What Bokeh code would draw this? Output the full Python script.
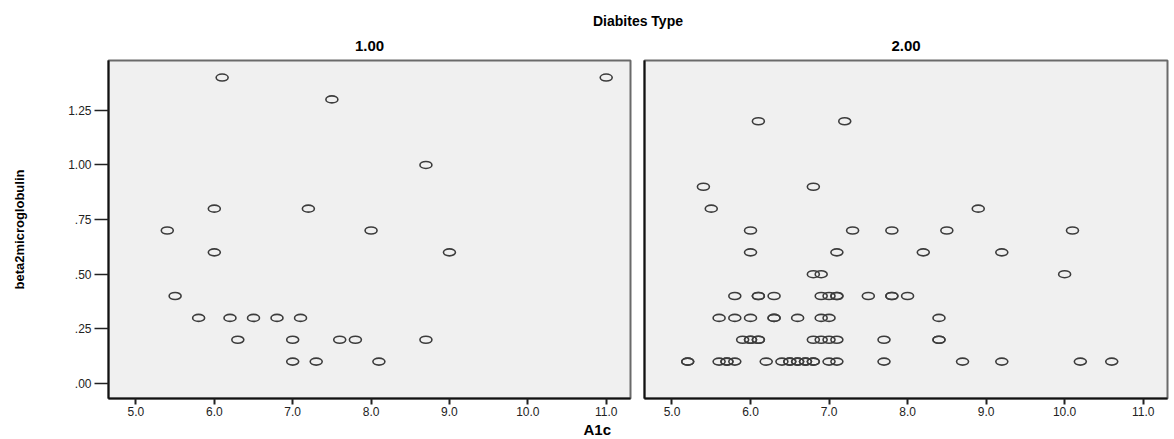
from bokeh.plotting import figure
from bokeh.models import FixedTicker, Title, Range1d
from bokeh.layouts import column, row
from bokeh.embed import file_html
from bokeh.resources import INLINE

# ---------------- data ----------------
group_title = "Diabites Type"
panel_titles = ["1.00", "2.00"]
x_label = "A1c"
y_label = "beta2microglobulin"

type1_a1c = [6.1, 11.0, 7.5, 8.7, 6.0, 7.2, 5.4, 8.0, 6.0, 9.0, 5.5,
             5.8, 6.2, 6.5, 6.8, 7.1, 6.3, 7.0, 7.6, 7.8, 8.7, 7.0, 7.3, 8.1]
type1_b2m = [1.40, 1.40, 1.30, 1.00, 0.80, 0.80, 0.70, 0.70, 0.60, 0.60, 0.40,
             0.30, 0.30, 0.30, 0.30, 0.30, 0.20, 0.20, 0.20, 0.20, 0.20, 0.10, 0.10, 0.10]

type2_a1c = [6.1, 7.2,
             5.4, 6.8,
             5.5, 8.9,
             6.0, 7.3, 7.8, 8.5, 10.1,
             6.0, 7.1, 8.2, 9.2,
             6.8, 6.9, 10.0,
             5.8, 6.1, 6.1, 6.3, 6.9, 7.0, 7.1, 7.1, 7.5, 7.8, 7.8, 8.0,
             5.6, 5.8, 6.0, 6.3, 6.3, 6.6, 6.9, 7.0, 8.4,
             5.9, 6.0, 6.0, 6.1, 6.1, 6.8, 6.9, 7.0, 7.1, 7.7, 8.4, 8.4,
             5.2, 5.2, 5.6, 5.7, 5.7, 5.8, 6.2, 6.4, 6.5, 6.5, 6.6, 6.6, 6.7, 6.7,
             6.8, 6.8, 7.0, 7.1, 7.7, 8.7, 9.2, 10.2, 10.6]
type2_b2m = [1.20, 1.20,
             0.90, 0.90,
             0.80, 0.80,
             0.70, 0.70, 0.70, 0.70, 0.70,
             0.60, 0.60, 0.60, 0.60,
             0.50, 0.50, 0.50,
             0.40, 0.40, 0.40, 0.40, 0.40, 0.40, 0.40, 0.40, 0.40, 0.40, 0.40, 0.40,
             0.30, 0.30, 0.30, 0.30, 0.30, 0.30, 0.30, 0.30, 0.30,
             0.20, 0.20, 0.20, 0.20, 0.20, 0.20, 0.20, 0.20, 0.20, 0.20, 0.20, 0.20,
             0.10, 0.10, 0.10, 0.10, 0.10, 0.10, 0.10, 0.10, 0.10, 0.10, 0.10, 0.10, 0.10, 0.10,
             0.10, 0.10, 0.10, 0.10, 0.10, 0.10, 0.10, 0.10, 0.10]

x_ticks = [5, 6, 7, 8, 9, 10, 11]
x_tick_labels = ["5.0", "6.0", "7.0", "8.0", "9.0", "10.0", "11.0"]
y_ticks = [0.0, 0.25, 0.5, 0.75, 1.0, 1.25]
y_tick_labels = [".00", ".25", ".50", ".75", "1.00", "1.25"]

# ---------------- style ----------------
FONT = "Liberation Sans"
BG = "#f0f0f0"
MARK = "#3c3c3c"
X_RANGE = (4.65, 11.31)
Y_RANGE = (-0.069, 1.478)


def text_strip(text, size, mb_left, mb_right, fw, mb_top, fh):
    """A figure without axes that only carries a centred title."""
    s = figure(frame_width=fw, frame_height=fh, output_backend="svg",
               toolbar_location=None, min_border_left=mb_left,
               min_border_right=mb_right, min_border_top=mb_top,
               min_border_bottom=0, x_range=Range1d(0, 1), y_range=Range1d(0, 1))
    s.title = Title(text=text, align="center", text_font=FONT,
                    text_font_size=size, text_font_style="bold",
                    text_color="#000000", standoff=0)
    s.axis.visible = False
    s.grid.visible = False
    s.outline_line_color = None
    return s


def make_panel(xs, ys, show_y, mb_left, mb_right, fw):
    p = figure(frame_width=fw, frame_height=338,
               x_range=Range1d(*X_RANGE), y_range=Range1d(*Y_RANGE),
               output_backend="svg", toolbar_location=None,
               min_border_left=mb_left, min_border_right=mb_right,
               min_border_top=2, min_border_bottom=0,
               background_fill_color=BG, border_fill_color="white")
    p.grid.visible = False
    p.outline_line_color = "#6a6a6a"
    p.outline_line_width = 2

    xa = p.xaxis[0]
    xa.ticker = FixedTicker(ticks=x_ticks)
    xa.major_label_overrides = {t: l for t, l in zip(x_ticks, x_tick_labels)}
    xa.axis_line_color = "#111111"
    xa.axis_line_width = 2
    xa.major_tick_line_color = "#222222"
    xa.major_tick_line_width = 2
    xa.major_tick_out = 6
    xa.major_tick_in = 0
    xa.minor_tick_line_color = None
    xa.major_label_text_font = FONT
    xa.major_label_text_font_size = "12px"
    xa.major_label_text_color = "#222222"
    xa.major_label_standoff = 2

    ya = p.yaxis[0]
    ya.ticker = FixedTicker(ticks=y_ticks if show_y else [])
    ya.axis_line_color = "#111111"
    ya.axis_line_width = 2
    ya.minor_tick_line_color = None
    if show_y:
        ya.major_label_overrides = {t: l for t, l in zip(y_ticks, y_tick_labels)}
        ya.major_tick_line_color = "#222222"
        ya.major_tick_line_width = 1.5
        ya.major_tick_out = 14
        ya.major_tick_in = 0
        ya.major_label_text_font = FONT
        ya.major_label_text_font_size = "12px"
        ya.major_label_text_color = "#222222"
        ya.major_label_standoff = 3
        ya.axis_label = y_label
        ya.axis_label_text_font = FONT
        ya.axis_label_text_font_size = "13px"
        ya.axis_label_text_font_style = "bold"
        ya.axis_label_text_color = "#000000"
        ya.axis_label_standoff = 38
    else:
        ya.major_tick_line_color = None
        ya.major_label_text_font_size = "0px"
        ya.major_label_standoff = 0

    p.ellipse(x=xs, y=ys, width=12, height=7,
              width_units="screen", height_units="screen",
              fill_color=None, line_color=MARK, line_width=1.6)
    return p


header = text_strip(group_title, "14px", 108, 5, 1059, 28, 1)
sub1 = text_strip(panel_titles[0], "15px", 108, 7, 522, 21, 8)
sub2 = text_strip(panel_titles[1], "15px", 7, 5, 523, 21, 8)

p1 = make_panel(type1_a1c, type1_b2m, True, 108, 7, 522)
p2 = make_panel(type2_a1c, type2_b2m, False, 7, 5, 523)

p1.add_layout(Title(text=x_label, align="left", offset=475, text_font=FONT,
                    text_font_size="15px", text_font_style="bold",
                    text_color="#000000", standoff=0), "below")

layout = column(header, row(sub1, sub2, spacing=0), row(p1, p2, spacing=0), spacing=0)

open("out.html", "w").write(file_html(layout, INLINE))
